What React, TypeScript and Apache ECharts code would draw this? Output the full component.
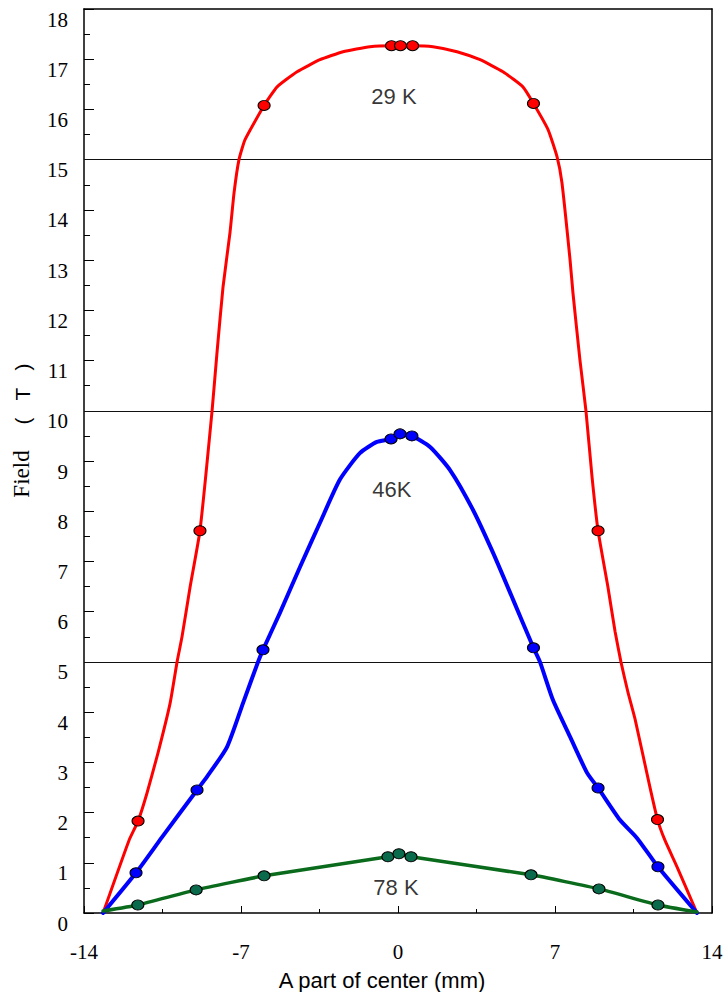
import React, { useEffect, useRef } from "react";
import * as echarts from "echarts";

// x: position (mm), y: field (T)
const red29KLine: [number, number][] = [
  [-13.15, 0.0], [-11.99, 1.45], [-11.59, 1.83], [-11.19, 2.39], [-10.7, 3.19],
  [-10.16, 4.18], [-9.85, 5.0], [-9.63, 5.5], [-9.27, 6.49], [-8.83, 7.61],
  [-8.29, 10.0], [-8.07, 11.16], [-7.8, 12.47], [-7.49, 13.55],
  [-7.31, 14.34], [-7.09, 15.0], [-6.82, 15.4], [-5.97, 16.08], [-5.39, 16.45],
  [-4.5, 16.75], [-3.48, 16.99], [-2.45, 17.15], [-1.25, 17.25], [-0.29, 17.27],
  [0.11, 17.27], [0.65, 17.27], [1.56, 17.25], [2.63, 17.15], [3.66, 16.99],
  [4.68, 16.75], [5.57, 16.45], [6.04, 16.12], [6.69, 15.6], [7.09, 15.06],
  [7.31, 14.54], [7.67, 13.01], [7.8, 12.35], [8.11, 11.02], [8.38, 10.0],
  [8.65, 8.69], [8.92, 7.61], [9.36, 6.49], [9.68, 5.6], [9.94, 5.0],
  [10.25, 4.4], [10.57, 3.86], [11.23, 2.51], [11.57, 1.86], [11.9, 1.45],
  [12.44, 0.92], [13.33, 0.0],
];
const red29KPoints: [number, number][] = [
  [-11.59, 1.83], [-8.83, 7.61], [-5.97, 16.08], [-0.29, 17.27], [0.11, 17.27],
  [0.65, 17.27], [6.04, 16.12], [8.92, 7.61], [11.57, 1.86],
];

const blue46KLine: [number, number][] = [
  [-13.15, 0.0], [-11.68, 0.8], [-10.52, 1.51], [-8.96, 2.45], [-8.52, 2.71],
  [-7.62, 3.31], [-6.91, 4.18], [-6.24, 5.0], [-6.02, 5.24], [-5.26, 5.98],
  [-4.37, 6.89], [-3.48, 7.77], [-2.59, 8.63], [-1.69, 9.16], [-0.94, 9.38],
  [-0.31, 9.44], [0.09, 9.54], [0.62, 9.5], [1.43, 9.28], [2.32, 8.82],
  [3.34, 8.03], [4.24, 7.17], [5.13, 6.24], [6.04, 5.28], [6.33, 5.0],
  [6.91, 4.24], [7.67, 3.51], [8.43, 2.79], [8.92, 2.49], [9.9, 1.85],
  [10.66, 1.49], [11.59, 0.92], [13.33, 0.0],
];
const blue46KPoints: [number, number][] = [
  [-11.68, 0.8], [-8.96, 2.45], [-6.02, 5.24], [-0.31, 9.44], [0.09, 9.54],
  [0.62, 9.5], [6.04, 5.28], [8.92, 2.49], [11.59, 0.92],
];

const green78KLine: [number, number][] = [
  [-13.15, 0.04], [-11.6, 0.16], [-9.0, 0.46], [-5.97, 0.74], [-0.45, 1.12],
  [0.04, 1.18], [0.58, 1.12], [5.93, 0.76], [8.96, 0.48], [11.59, 0.16],
  [13.33, 0.02],
];
const green78KPoints: [number, number][] = [
  [-11.6, 0.16], [-9.0, 0.46], [-5.97, 0.74], [-0.45, 1.12], [0.04, 1.18],
  [0.58, 1.12], [5.93, 0.76], [8.96, 0.48], [11.59, 0.16],
];

const curveNames = ["29 K", "46K", "78 K"];
const curveNamePositions: [number, number][] = [
  [-0.18, 16.25],
  [-0.27, 8.43],
  [-0.09, 0.5],
];
const guideLevels = [5, 10, 15];

const xMin = -14;
const xMax = 14;
const xInterval = 7;
const yMin = 0;
const yMax = 18;
const yInterval = 1;

const SERIF = "Liberation Serif";
const SANS = "Liberation Sans";

export default function App() {
  const ref = useRef<HTMLDivElement>(null);

  useEffect(() => {
    if (!ref.current) return;
    const chart = echarts.init(ref.current, undefined, { renderer: "svg" });

    const lineSeries = (name: string, data: [number, number][], color: string, width: number, smooth: number) => ({
      name,
      type: "line",
      data,
      showSymbol: false,
      symbol: "none",
      smooth,
      lineStyle: { color, width, join: "round", cap: "round" },
      z: 3,
    });
    const pointSeries = (name: string, data: [number, number][], fill: string) => ({
      name,
      type: "scatter",
      data,
      symbol: "circle",
      symbolSize: [12, 10],
      itemStyle: { color: fill, borderColor: "#000", borderWidth: 1, opacity: 1 },
      z: 5,
    });

    const option: any = {
      animation: false,
      backgroundColor: "#fff",
      grid: { left: 84, right: 16, top: 9, bottom: 79, containLabel: false },
      xAxis: [
        {
          type: "value",
          min: xMin,
          max: xMax,
          interval: xInterval,
          axisLine: { show: true, onZero: false, lineStyle: { color: "#000", width: 1.5 } },
          axisTick: { show: true, inside: true, length: 7, lineStyle: { color: "#000", width: 1 } },
          minorTick: { show: true, splitNumber: 2, length: 4, lineStyle: { color: "#000", width: 1 } },
          axisLabel: { show: true, margin: 28, color: "#000", fontSize: 21, fontFamily: SERIF },
          splitLine: { show: false },
          minorSplitLine: { show: false },
        },
        {
          type: "value",
          position: "top",
          min: xMin,
          max: xMax,
          interval: xInterval,
          axisLine: { show: true, onZero: false, lineStyle: { color: "#000", width: 1.5 } },
          axisTick: { show: false },
          axisLabel: { show: false },
          splitLine: { show: false },
        },
      ],
      yAxis: [
        {
          type: "value",
          min: yMin,
          max: yMax,
          interval: yInterval,
          axisLine: { show: true, onZero: false, lineStyle: { color: "#000", width: 1.5 } },
          axisTick: { show: true, inside: true, length: 10, lineStyle: { color: "#000", width: 1 } },
          minorTick: { show: true, splitNumber: 2, length: 6, lineStyle: { color: "#000", width: 1 } },
          axisLabel: {
            show: true,
            margin: 16,
            color: "#000",
            fontSize: 21,
            fontFamily: SERIF,
            verticalAlign: "top",
          },
          splitLine: { show: false },
          minorSplitLine: { show: false },
        },
        {
          type: "value",
          position: "right",
          min: yMin,
          max: yMax,
          interval: yInterval,
          axisLine: { show: true, onZero: false, lineStyle: { color: "#000", width: 1.5 } },
          axisTick: { show: false },
          axisLabel: { show: false },
          splitLine: { show: false },
        },
      ],
      series: [
        {
          ...lineSeries("29 K", red29KLine, "#ff0000", 3, 0.15),
          markLine: {
            silent: true,
            symbol: "none",
            label: { show: false },
            lineStyle: { color: "#111", width: 1, type: "solid" },
            data: guideLevels.map((v) => ({ yAxis: v })),
            z: 1,
          },
        },
        lineSeries("46K", blue46KLine, "#0000ff", 4, 0.2),
        lineSeries("78 K", green78KLine, "#0b6b1c", 3.5, 0.15),
        pointSeries("29 K points", red29KPoints, "#ff0000"),
        pointSeries("46K points", blue46KPoints, "#0000ff"),
        pointSeries("78 K points", green78KPoints, "#0a6b4c"),
        {
          name: "labels",
          type: "scatter",
          data: curveNames.map((n, i) => ({ name: n, value: curveNamePositions[i] })),
          symbolSize: 1,
          itemStyle: { color: "rgba(0,0,0,0)" },
          label: {
            show: true,
            position: "inside",
            formatter: "{b}",
            color: "#000",
            fontSize: 22,
            fontFamily: SANS,
          },
          z: 6,
        },
      ],
      graphic: [
        {
          type: "text",
          x: 382,
          y: 980,
          style: {
            text: "A part of center (mm)",
            fill: "#000",
            fontSize: 22,
            fontFamily: SANS,
            textAlign: "center",
            textVerticalAlign: "middle",
          },
        },
        {
          type: "text",
          x: 21,
          y: 474,
          rotation: Math.PI / 2,
          style: {
            text: "Field",
            fill: "#000",
            fontSize: 23,
            fontFamily: SERIF,
            textAlign: "center",
            textVerticalAlign: "middle",
          },
        },
        {
          type: "text",
          x: 22,
          y: 394,
          rotation: Math.PI / 2,
          style: {
            text: "(   T   )",
            fill: "#000",
            fontSize: 21,
            fontFamily: SANS,
            textAlign: "center",
            textVerticalAlign: "middle",
          },
        },
      ],
    };

    chart.setOption(option);
    return () => chart.dispose();
  }, []);

  return (
    <div
      ref={ref}
      style={{ position: "absolute", left: 0, top: 0, width: 728, height: 992, background: "#fff" }}
    />
  );
}
